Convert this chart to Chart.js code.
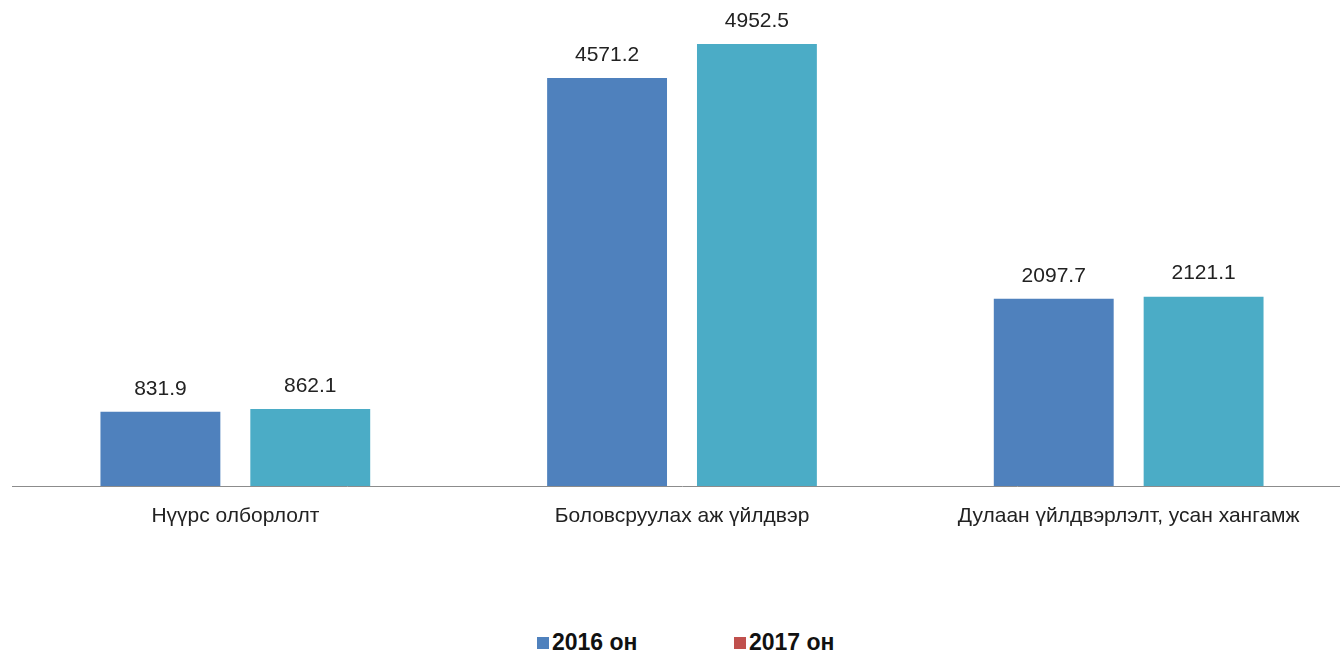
<!DOCTYPE html>
<html>
<head>
<meta charset="utf-8">
<script src="https://cdn.jsdelivr.net/npm/chart.js@4/dist/chart.umd.min.js"></script>
<style>
  html, body { margin: 0; padding: 0; background: #fff; overflow: hidden; width: 1340px; height: 653px; }
  #wrap { position: absolute; left: 0; top: 0; width: 1352px; height: 560px; }
  #legend { position: absolute; top: 628px; left: 0; width: 1340px; font-family: "Liberation Sans", Arial, sans-serif; font-weight: bold; font-size: 23px; line-height: 28px; color: #111; }
  .item { position: absolute; top: 0; white-space: nowrap; }
  .box { display: inline-block; width: 12px; height: 12px; margin-right: 3px; vertical-align: 1px; }
</style>
</head>
<body>
<div id="wrap"><canvas id="chart"></canvas></div>
<div id="legend">
  <span class="item" style="left:537px"><span class="box" style="background:#4F81BD"></span>2016 он</span>
  <span class="item" style="left:734px"><span class="box" style="background:#C0504D"></span>2017 он</span>
</div>
<script>
  // Chart data
  const categories = ["Нүүрс олборлолт", "Боловсруулах аж үйлдвэр", "Дулаан үйлдвэрлэлт, усан хангамж"];
  const values2016 = [831.9, 4571.2, 2097.7];
  const values2017 = [862.1, 4952.5, 2121.1];
  const seriesNames = ["2016 он", "2017 он"];

  // value labels above each bar
  const valueLabels = {
    id: "valueLabels",
    afterDatasetsDraw(chart) {
      const ctx = chart.ctx;
      ctx.save();
      ctx.font = "21px 'Liberation Sans', Arial, sans-serif";
      ctx.fillStyle = "#222";
      ctx.textAlign = "center";
      ctx.textBaseline = "middle";
      chart.data.datasets.forEach(function (ds, i) {
        chart.getDatasetMeta(i).data.forEach(function (bar, j) {
          ctx.fillText(ds.data[j].toFixed(1), bar.x, bar.y - 23);
        });
      });
      ctx.restore();
    }
  };

  const ctx = document.getElementById("chart").getContext("2d");
  const chart = new Chart(ctx, {
    type: "bar",
    data: {
      labels: categories,
      datasets: [{
        label: seriesNames[0],
        data: values2016,
        backgroundColor: "#4F81BD",
        barPercentage: 0.8,
        categoryPercentage: 0.671
      }, {
        label: seriesNames[1],
        data: values2017,
        backgroundColor: "#4BACC6",
        barPercentage: 0.8,
        categoryPercentage: 0.671
      }]
    },
    options: {
      responsive: true,
      maintainAspectRatio: false,
      animation: false,
      layout: { padding: { left: 12, right: 0, top: 0, bottom: 0 } },
      plugins: {
        legend: { display: false },
        tooltip: { enabled: false }
      },
      scales: {
        y: {
          display: false,
          min: 0,
          max: 5445
        },
        x: {
          grid: { display: false, drawTicks: false },
          border: { display: true, color: "#8c8c8c", width: 1 },
          ticks: {
            padding: 18,
            color: "#222",
            font: { family: "'Liberation Sans', Arial, sans-serif", size: 21 }
          },
          afterFit: function (scale) { scale.height = 74; }
        }
      }
    },
    plugins: [valueLabels]
  });
</script>
</body>
</html>
